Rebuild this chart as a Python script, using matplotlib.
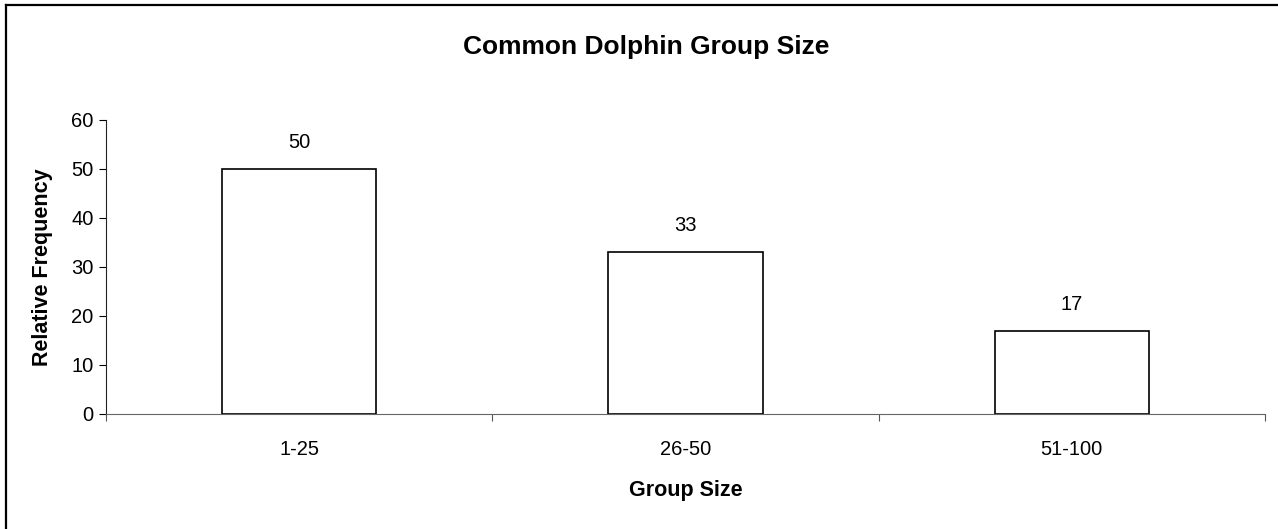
import matplotlib
matplotlib.use("Agg")
import matplotlib.pyplot as plt
from matplotlib.lines import Line2D

plt.rcParams['font.family'] = ['Liberation Sans', 'DejaVu Sans']

categorias = ["1-25", "26-50", "51-100"]
frequencia = [50, 33, 17]
titulo = "Common Dolphin Group Size"

fig = plt.figure(figsize=(12.78, 5.29), dpi=100)
ax = fig.add_axes([0.0829, 0.2174, 0.9069, 0.5567])

x = range(len(categorias))
barras = ax.bar(x, frequencia, width=0.4, color="white", edgecolor="black", linewidth=1.2)
for b, v in zip(barras, frequencia):
    ax.annotate(str(v), (b.get_x() + b.get_width() / 2, v), xytext=(0, 19),
                textcoords="offset points", ha="center", va="center", fontsize=14.5)

ax.set_xlim(-0.5, len(categorias) - 0.5)
ax.set_ylim(0, 60)
ax.set_yticks(range(0, 61, 10))
ax.set_xticks([i - 0.5 for i in range(len(categorias) + 1)], minor=False)
ax.set_xticklabels([])
ax.set_xticks(list(x), minor=True)
ax.set_xticklabels(categorias, minor=True, fontsize=14.5)
ax.tick_params(axis="x", which="minor", length=0, pad=19)
ax.tick_params(axis="x", which="major", length=5, direction="out", color="#555555")
ax.tick_params(axis="y", length=5, direction="out", labelsize=14.5, pad=4)

for s in ["top", "right"]:
    ax.spines[s].set_visible(False)
ax.spines["left"].set_color("#222222")
ax.spines["bottom"].set_color("#666666")

ax.set_xlabel("Group Size", fontsize=15.5, fontweight="bold", va="center")
ax.xaxis.set_label_coords(0.5, -0.261)
ax.set_ylabel("Relative Frequency", fontsize=15.5, fontweight="bold", va="center")
ax.yaxis.set_label_coords(-0.0544, 0.5)
fig.text(0.506, 0.912, titulo, ha="center", va="center", fontsize=19, fontweight="bold")

# moldura do gráfico (só topo e esquerda visíveis)
fig.add_artist(Line2D([6 / 1278, 1], [1 - 5 / 529] * 2, transform=fig.transFigure, color="black", lw=1.6))
fig.add_artist(Line2D([6 / 1278] * 2, [0, 1 - 5 / 529], transform=fig.transFigure, color="black", lw=1.6))

plt.savefig("out.png", dpi=100)
plt.close()
